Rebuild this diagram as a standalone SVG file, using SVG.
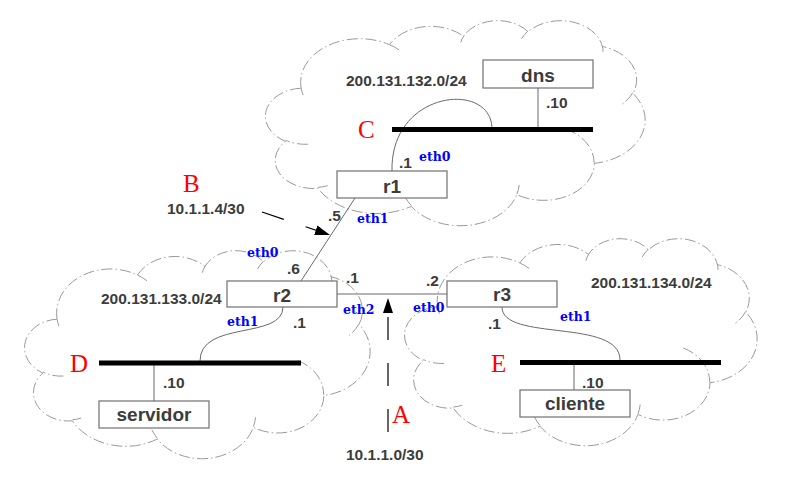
<svg xmlns="http://www.w3.org/2000/svg" width="788" height="500" viewBox="0 0 788 500">
<style>
.cloud{fill:#fff;stroke:#9a9a9a;stroke-width:1;stroke-dasharray:11 3 1.5 3}
.bump{fill:none;stroke:#9a9a9a;stroke-width:1;stroke-dasharray:11 3 1.5 3}
.box{fill:#fff;stroke:#707070;stroke-width:1.2}
.bus{stroke:#000;stroke-width:5}
.wire{fill:none;stroke:#6a6a6a;stroke-width:1}
.ptr{fill:none;stroke:#000;stroke-width:1.2;stroke-dasharray:23 23}
.lbl{font-family:"Liberation Sans",Arial,sans-serif;font-weight:bold;font-size:19px;fill:#3c3c3c;text-anchor:middle}
.ip{font-family:"Liberation Sans",Arial,sans-serif;font-weight:bold;font-size:15.5px;fill:#3c3c3c}
.eth{font-family:"DejaVu Serif",serif;font-weight:bold;font-size:12.5px;fill:#0000ff}
.tag{font-family:"Liberation Serif","Times New Roman",serif;font-size:25px;fill:#ff0000}
</style>
<defs>
<marker id="arr" markerUnits="userSpaceOnUse" markerWidth="16" markerHeight="11" refX="15" refY="5" orient="auto">
<path d="M0,0 L15,5 L0,10 Z" fill="#000"/>
</marker>
</defs>
<rect width="788" height="500" fill="#fff"/>
<g id="clouds">
<g id="cloud-c">
<path class="cloud" d="M301.13,88.19 A59.09,43.61 0 0 1 389.54,44.69 A46.66,34.48 0 0 1 463.51,36.29 A38.19,28.21 0 0 1 528.06,31.77 A42.5,31.3 0 0 1 602.3,46.46 A46.66,34.51 0 0 1 632.93,93.36 A59.28,43.75 0 0 1 594.3,163.32 A50.62,37.33 0 0 1 516.88,194.69 A59.08,43.73 0 0 1 411.24,206.34 A67.55,50.03 0 0 1 317.81,188.32 A38.15,28.08 0 0 1 285.52,141.24 A38.02,28.21 0 0 1 301.13,88.19 Z"/>
<path class="bump" d="M308.06,144.22 A38.02,28.21 0 0 1 285.9,140.44 M327.62,185.61 A38.15,28.08 0 0 1 317.93,187.42 M411.18,205.5 A59.08,43.73 0 0 1 405.33,197.23 M519.24,184.91 A59.08,43.73 0 0 1 516.9,193.97 M565.63,128.93 A50.62,37.33 0 0 1 594.08,162.79 M632.73,92.86 A46.66,34.51 0 0 1 620.06,105.56 M602.34,45.75 A42.5,31.3 0 0 1 603,51.75 M521.43,38.75 A42.5,31.3 0 0 1 527.93,31.1 M460.73,42.4 A38.19,28.21 0 0 1 463.88,35.8 M389.5,44.64 A59.09,43.61 0 0 1 400.89,51.05 M303.11,94.93 A59.09,43.61 0 0 1 301.13,88.2"/>
</g>
<g id="cloud-d">
<path class="cloud" d="M57.06,319.19 A53.77,44.25 0 0 1 137.52,275.05 A42.47,34.99 0 0 1 204.83,266.52 A34.76,28.62 0 0 1 263.57,261.94 A38.68,31.75 0 0 1 331.14,276.84 A42.47,35.02 0 0 1 359.01,324.43 A53.95,44.39 0 0 1 323.86,395.42 A46.07,37.88 0 0 1 253.41,427.25 A53.77,44.37 0 0 1 157.26,439.06 A61.47,50.76 0 0 1 72.24,420.79 A34.72,28.49 0 0 1 42.85,373.01 A34.6,28.62 0 0 1 57.06,319.19 Z"/>
<path class="bump" d="M63.37,376.04 A34.6,28.62 0 0 1 43.2,372.2 M81.17,418.03 A34.72,28.49 0 0 1 72.34,419.87 M157.21,438.21 A53.77,44.37 0 0 1 151.89,429.82 M255.55,417.32 A53.77,44.37 0 0 1 253.42,426.51 M297.77,360.52 A46.07,37.88 0 0 1 323.66,394.88 M358.84,323.93 A42.47,35.02 0 0 1 347.31,336.82 M331.17,276.13 A38.68,31.75 0 0 1 331.78,282.21 M257.55,269.03 A38.68,31.75 0 0 1 263.46,261.27 M202.31,272.73 A34.76,28.62 0 0 1 205.17,266.03 M137.48,275 A53.77,44.25 0 0 1 147.85,281.5 M58.86,326.02 A53.77,44.25 0 0 1 57.06,319.2"/>
</g>
<g id="cloud-e">
<path class="cloud" d="M437.69,306.86 A54.87,44.04 0 0 1 519.79,262.93 A43.33,34.82 0 0 1 588.47,254.45 A35.47,28.49 0 0 1 648.41,249.88 A39.46,31.6 0 0 1 717.35,264.71 A43.33,34.85 0 0 1 745.79,312.07 A55.05,44.18 0 0 1 709.92,382.72 A47,37.7 0 0 1 638.03,414.4 A54.86,44.16 0 0 1 539.93,426.15 A62.73,50.52 0 0 1 453.18,407.97 A35.43,28.36 0 0 1 423.19,360.42 A35.3,28.49 0 0 1 437.69,306.86 Z"/>
<path class="bump" d="M444.13,363.43 A35.3,28.49 0 0 1 423.55,359.61 M462.29,405.23 A35.43,28.36 0 0 1 453.29,407.05 M539.88,425.31 A54.86,44.16 0 0 1 534.45,416.96 M640.22,404.52 A54.86,44.16 0 0 1 638.05,413.67 M683.3,347.99 A47,37.7 0 0 1 709.72,382.18 M745.61,311.57 A43.33,34.85 0 0 1 733.84,324.4 M717.38,264 A39.46,31.6 0 0 1 718,270.06 M642.26,256.94 A39.46,31.6 0 0 1 648.29,249.21 M585.9,260.62 A35.47,28.49 0 0 1 588.81,253.96 M519.75,262.88 A54.87,44.04 0 0 1 530.33,269.35 M439.53,313.66 A54.87,44.04 0 0 1 437.69,306.86"/>
</g>
</g>
<g id="connectors">
<path class="wire" d="M392,171 C390,90 492,80 492,129"/>
<line class="wire" x1="538" y1="88" x2="538" y2="129"/>
<line class="wire" x1="355" y1="198" x2="301" y2="281"/>
<line class="wire" x1="337" y1="294" x2="447" y2="294"/>
<path class="wire" d="M283,307 C283,340 200,320 200,361"/>
<line class="wire" x1="154" y1="363" x2="154" y2="401"/>
<path class="wire" d="M502,307 C502,342 620,318 620,360"/>
<line class="wire" x1="574" y1="362" x2="574" y2="390"/>
<line class="ptr" x1="262" y1="212" x2="330" y2="235" marker-end="url(#arr)"/>
<line class="ptr" x1="388" y1="432" x2="388" y2="298" marker-end="url(#arr)"/>
</g>
<g id="net-c">
<line class="bus" x1="392" y1="129.5" x2="593" y2="129.5"/>
<text class="tag" x="358" y="138">C</text>
<text class="ip" x="346" y="85.5">200.131.132.0/24</text>
</g>
<g id="net-d">
<line class="bus" x1="99" y1="363" x2="301" y2="363"/>
<text class="tag" x="70" y="372">D</text>
<text class="ip" x="101" y="303.5">200.131.133.0/24</text>
</g>
<g id="net-e">
<line class="bus" x1="520" y1="362.5" x2="721" y2="362.5"/>
<text class="tag" x="491" y="372">E</text>
<text class="ip" x="591" y="287.5">200.131.134.0/24</text>
</g>
<g id="link-a">
<text class="tag" x="392" y="423">A</text>
<text class="ip" x="346" y="459.5">10.1.1.0/30</text>
</g>
<g id="link-b">
<text class="tag" x="183" y="192">B</text>
<text class="ip" x="167" y="213.5">10.1.1.4/30</text>
</g>
<g id="dns">
<rect class="box" x="483" y="60" width="110" height="28"/>
<text class="lbl" x="538" y="82">dns</text>
<text class="ip" x="546" y="107.5">.10</text>
</g>
<g id="r1">
<rect class="box" x="337" y="171" width="110" height="27"/>
<text class="lbl" x="392" y="193">r1</text>
<text class="ip" x="399" y="167.5">.1</text>
<text class="eth" x="419" y="161">eth0</text>
<text class="ip" x="328" y="220.5">.5</text>
<text class="eth" x="357" y="223">eth1</text>
</g>
<g id="r2">
<rect class="box" x="227" y="281" width="110" height="26"/>
<text class="lbl" x="282" y="302">r2</text>
<text class="eth" x="247" y="257">eth0</text>
<text class="ip" x="287" y="273.5">.6</text>
<text class="ip" x="346" y="282.5">.1</text>
<text class="eth" x="343" y="314">eth2</text>
<text class="eth" x="227" y="326">eth1</text>
<text class="ip" x="293" y="327.5">.1</text>
</g>
<g id="r3">
<rect class="box" x="447" y="281" width="110" height="26"/>
<text class="lbl" x="502" y="301">r3</text>
<text class="ip" x="426" y="285.5">.2</text>
<text class="eth" x="413" y="312">eth0</text>
<text class="ip" x="488" y="328.5">.1</text>
<text class="eth" x="560" y="321">eth1</text>
</g>
<g id="servidor">
<rect class="box" x="99" y="401" width="110" height="27"/>
<text class="lbl" x="154" y="421">servidor</text>
<text class="ip" x="163" y="387.5">.10</text>
</g>
<g id="cliente">
<rect class="box" x="520" y="390" width="110" height="27"/>
<text class="lbl" x="575" y="410">cliente</text>
<text class="ip" x="582" y="387.5">.10</text>
</g>
</svg>
